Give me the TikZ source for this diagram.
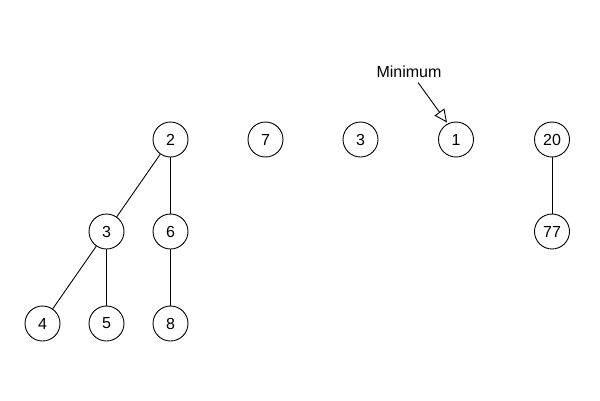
\documentclass[tikz,border=0pt]{standalone}
\usepackage{fontspec}
\setmainfont{Liberation Sans}
\usetikzlibrary{arrows.meta}
\begin{document}
\begin{tikzpicture}[x=1pt,y=-1pt,
  nd/.style={circle,draw,line width=0.9pt,minimum size=35pt,inner sep=0pt,font=\fontsize{16}{18}\selectfont},
  ln/.style={line width=0.9pt},
  lbl/.style={font=\fontsize{16}{18}\selectfont,inner sep=0pt}]
\useasboundingbox (0,0) rectangle (600,400);
\node[nd] (n2) at (170.5,139.5) {2};
\node[nd] (n7) at (265.5,139.5) {7};
\node[nd] (n3b) at (360.5,139.5) {3};
\node[nd] (n1) at (456,139.5) {1};
\node[nd] (n20) at (552,139.5) {20};
\node[nd] (n3) at (106.5,231.5) {3};
\node[nd] (n6) at (170.5,231.5) {6};
\node[nd] (n77) at (552,231.5) {77};
\node[nd] (n4) at (42.5,323.5) {4};
\node[nd] (n5) at (106.5,323.5) {5};
\node[nd] (n8) at (170.5,323.5) {8};
\draw[ln] (n2) -- (n3);
\draw[ln] (n2) -- (n6);
\draw[ln] (n3) -- (n4);
\draw[ln] (n3) -- (n5);
\draw[ln] (n6) -- (n8);
\draw[ln] (n20) -- (n77);
\node[lbl] (minl) at (409,72) {Minimum};
\coordinate (astart) at (418,82.5);
\coordinate (aend) at (447,122.5);
\draw[ln,-{Triangle[open,length=13pt,width=12pt]}] (astart) -- (aend);
\end{tikzpicture}
\end{document}
